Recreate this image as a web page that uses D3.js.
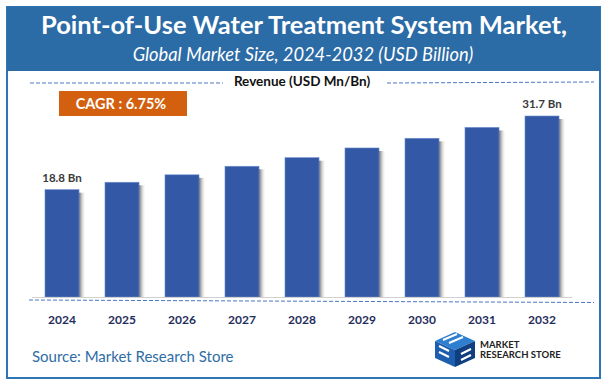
<!DOCTYPE html>
<html>
<head>
<meta charset="utf-8">
<script src="https://cdn.jsdelivr.net/npm/d3@7"></script>
<style>
  body { margin: 0; background: #fff; }
  svg { display: block; }
  text { font-family: Lato, "Open Sans", sans-serif; }
</style>
</head>
<body>
<div id="chart"></div>
<script>
// Data
const years = ["2024", "2025", "2026", "2027", "2028", "2029", "2030", "2031", "2032"];
const revenue = [18.8, 20.1, 21.4, 22.9, 24.4, 26.1, 27.8, 29.7, 31.7];
const valueLabels = ["18.8 Bn", "", "", "", "", "", "", "", "31.7 Bn"];
const titleText = "Point-of-Use Water Treatment System Market,";
const subtitleText = "Global Market Size, 2024-2032 (USD Billion)";
const cagrText = "CAGR : 6.75%";

const W = 610, H = 388;
const svg = d3.select("#chart").append("svg")
    .attr("width", W)
    .attr("height", H);

const defs = svg.append("defs");
const grad = defs.append("linearGradient").attr("id", "shade");
grad.append("stop").attr("offset", "0%").attr("stop-color", "#6b6b6b");
grad.append("stop").attr("offset", "100%").attr("stop-color", "#ffffff").attr("stop-opacity", 0);

// frame + header
svg.append("rect")
    .attr("x", 7).attr("y", 7).attr("width", 593).attr("height", 371)
    .attr("fill", "#fff").attr("stroke", "#2e75b6").attr("stroke-width", 2);
svg.append("rect")
    .attr("x", 7).attr("y", 7).attr("width", 593).attr("height", 64)
    .attr("fill", "#2b6ba6");

svg.append("text")
    .attr("x", 304).attr("y", 34)
    .attr("text-anchor", "middle")
    .attr("fill", "#fff").attr("font-size", 25.5).attr("font-weight", "bold")
    .text(titleText);
svg.append("text")
    .attr("x", 303).attr("y", 61)
    .attr("text-anchor", "middle")
    .attr("fill", "#fff").attr("font-size", 18.3).attr("font-style", "italic")
    .text(subtitleText);

// Revenue label with dashed lines
svg.append("line").attr("x1", 30).attr("x2", 223).attr("y1", 83).attr("y2", 83)
    .attr("stroke", "#4a76c4").attr("stroke-dasharray", "4,2");
svg.append("line").attr("x1", 387).attr("x2", 594).attr("y1", 83).attr("y2", 82)
    .attr("stroke", "#4a76c4").attr("stroke-dasharray", "4,2");
svg.append("text")
    .attr("x", 302).attr("y", 86)
    .attr("text-anchor", "middle")
    .attr("fill", "#111").attr("font-size", 13.5).attr("font-weight", "bold")
    .text("Revenue (USD Mn/Bn)");

// CAGR box
svg.append("rect")
    .attr("x", 59).attr("y", 91).attr("width", 128).attr("height", 25)
    .attr("fill", "#d2600e");
svg.append("text")
    .attr("x", 121).attr("y", 108.5)
    .attr("text-anchor", "middle")
    .attr("fill", "#fff").attr("font-size", 14.5).attr("font-weight", "bold")
    .text(cagrText);

// Scales
const x = d3.scaleBand()
    .domain(years)
    .range([32, 572])
    .paddingInner(0.433)
    .paddingOuter(0.2165);

const y = d3.scaleLinear()
    .domain([0, d3.max(revenue)])
    .range([297, 116]);

const data = years.map((yr, i) => ({ year: yr, value: revenue[i], label: valueLabels[i] }));

// shadows
svg.selectAll(".shadow")
    .data(data)
  .enter().append("rect")
    .attr("class", "shadow")
    .attr("x", d => x(d.year) + x.bandwidth())
    .attr("y", d => y(d.value) + 3)
    .attr("width", 7)
    .attr("height", d => y(0) - y(d.value) - 3)
    .attr("fill", "url(#shade)");

// bars
svg.selectAll(".bar")
    .data(data)
  .enter().append("rect")
    .attr("class", "bar")
    .attr("x", d => x(d.year))
    .attr("y", d => y(d.value))
    .attr("width", x.bandwidth())
    .attr("height", d => y(0) - y(d.value))
    .attr("fill", "#3358a6")
    .attr("stroke", "#6f8fcf")
    .attr("stroke-width", 0.6);

// value labels
svg.selectAll(".vlabel")
    .data(data.filter(d => d.label))
  .enter().append("text")
    .attr("class", "vlabel")
    .attr("x", d => x(d.year) + x.bandwidth() / 2)
    .attr("y", d => y(d.value) - 8)
    .attr("text-anchor", "middle")
    .attr("fill", "#3a3a3a").attr("font-size", 11.5).attr("font-weight", "bold")
    .text(d => d.label);

// axis
svg.append("line").attr("x1", 32).attr("x2", 572).attr("y1", 297.5).attr("y2", 297.5)
    .attr("stroke", "#d0d0d0").attr("stroke-width", 1);
svg.append("line").attr("x1", 29).attr("x2", 594).attr("y1", 300).attr("y2", 302.5)
    .attr("stroke", "#4a76c4").attr("stroke-dasharray", "4,2");

const xAxis = svg.append("g")
    .attr("transform", "translate(0,297)")
    .call(d3.axisBottom(x).tickSize(0).tickPadding(18));
xAxis.select(".domain").remove();
xAxis.selectAll("text")
    .attr("font-family", "Lato, sans-serif")
    .attr("font-size", 12).attr("font-weight", "bold")
    .attr("fill", "#1f2d5c");

// source
svg.append("text")
    .attr("x", 32).attr("y", 362)
    .attr("fill", "#2e6da4").attr("font-size", 15)
    .text("Source: Market Research Store");

// logo
const logo = svg.append("g").attr("transform", "translate(435,332)");
logo.append("polygon").attr("points", "0,9 20,0 40,9 20,18").attr("fill", "#2f7fd0");
logo.append("polygon").attr("points", "0,9 20,18 20,35 0,26").attr("fill", "#1d5fae");
logo.append("polygon").attr("points", "20,18 40,9 40,26 20,35").attr("fill", "#0f3f80");
logo.append("path").attr("d", "M8,8 L22,2 M14,11 L28,5 M4,14 L14,19 M4,20 L14,25 M26,22 L36,17 M26,28 L36,23")
    .attr("stroke", "#fff").attr("stroke-width", 2).attr("fill", "none");
logo.append("text")
    .attr("x", 45).attr("y", 15.5)
    .attr("font-family", "'DejaVu Sans Condensed', 'Liberation Sans Narrow', sans-serif")
    .attr("font-size", 9.5).attr("font-weight", "bold").attr("fill", "#222")
    .text("MARKET");
logo.append("text")
    .attr("x", 45).attr("y", 25.5)
    .attr("font-family", "'DejaVu Sans Condensed', 'Liberation Sans Narrow', sans-serif")
    .attr("font-size", 9.5).attr("font-weight", "bold").attr("fill", "#222")
    .text("RESEARCH STORE");
</script>
</body>
</html>
